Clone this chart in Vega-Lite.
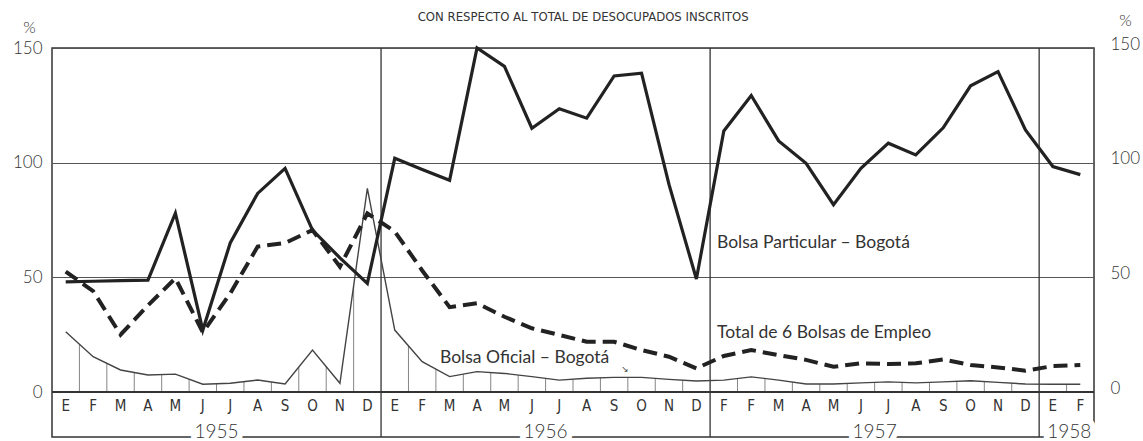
{
  "$schema": "https://vega.github.io/schema/vega-lite/v6.json",
  "width": 1042,
  "height": 389,
  "autosize": {"type": "none"},
  "padding": {"left": 52, "top": 48, "right": 49, "bottom": 4},
  "background": "#ffffff",
  "config": {"view": {"stroke": "#333333", "strokeWidth": 1.5}},
  "datasets": {
    "months": [
      {"i": 0, "m": "E", "p": 48, "t": 52.5, "o": 26.3},
      {"i": 1, "m": "F", "p": 48.3, "t": 44, "o": 15.4},
      {"i": 2, "m": "M", "p": 48.6, "t": 25, "o": 9.6},
      {"i": 3, "m": "A", "p": 48.8, "t": 37.8, "o": 7.4},
      {"i": 4, "m": "M", "p": 78, "t": 49.6, "o": 7.8},
      {"i": 5, "m": "J", "p": 27, "t": 26, "o": 3.4},
      {"i": 6, "m": "J", "p": 65, "t": 43, "o": 3.8},
      {"i": 7, "m": "A", "p": 86.6, "t": 63.4, "o": 5.2},
      {"i": 8, "m": "S", "p": 97.5, "t": 65, "o": 3.5},
      {"i": 9, "m": "O", "p": 70.6, "t": 70.6, "o": 18.3},
      {"i": 10, "m": "N", "p": 58.5, "t": 54.6, "o": 3.8},
      {"i": 11, "m": "D", "p": 47.4, "t": 77.9, "o": 88.8},
      {"i": 12, "m": "E", "p": 101.9, "t": 70, "o": 27},
      {"i": 13, "m": "F", "p": 97, "t": 53, "o": 13.2},
      {"i": 14, "m": "M", "p": 92.3, "t": 37, "o": 6.7},
      {"i": 15, "m": "A", "p": 150, "t": 38.7, "o": 8.9},
      {"i": 16, "m": "M", "p": 142, "t": 32.8, "o": 8.1},
      {"i": 17, "m": "J", "p": 115, "t": 27.8, "o": 6.7},
      {"i": 18, "m": "J", "p": 123.5, "t": 24.9, "o": 5.2},
      {"i": 19, "m": "A", "p": 119.4, "t": 21.9, "o": 6},
      {"i": 20, "m": "S", "p": 137.8, "t": 21.9, "o": 6.4},
      {"i": 21, "m": "O", "p": 139, "t": 18.3, "o": 6.4},
      {"i": 22, "m": "N", "p": 90.5, "t": 15.4, "o": 5.5},
      {"i": 23, "m": "D", "p": 49.3, "t": 10.3, "o": 4.8},
      {"i": 24, "m": "F", "p": 113.8, "t": 15.7, "o": 5.2},
      {"i": 25, "m": "F", "p": 129.3, "t": 18.3, "o": 6.6},
      {"i": 26, "m": "M", "p": 109.5, "t": 16.1, "o": 5.2},
      {"i": 27, "m": "A", "p": 99.7, "t": 14, "o": 3.5},
      {"i": 28, "m": "M", "p": 81.7, "t": 11, "o": 3.5},
      {"i": 29, "m": "J", "p": 97.5, "t": 12.5, "o": 4},
      {"i": 30, "m": "J", "p": 108.5, "t": 12.2, "o": 4.4},
      {"i": 31, "m": "A", "p": 103.4, "t": 12.5, "o": 4},
      {"i": 32, "m": "S", "p": 115.2, "t": 14.2, "o": 4.4},
      {"i": 33, "m": "O", "p": 133.5, "t": 11.8, "o": 4.9},
      {"i": 34, "m": "N", "p": 139.7, "t": 10.7, "o": 4.2},
      {"i": 35, "m": "D", "p": 114.3, "t": 9.3, "o": 3.5},
      {"i": 36, "m": "E", "p": 98.3, "t": 11.3, "o": 3.4},
      {"i": 37, "m": "F", "p": 94.8, "t": 11.8, "o": 3.4}
    ],
    "hatch": [
      {"b": 0.5, "h": 20.8}, {"b": 1.5, "h": 12.5}, {"b": 2.5, "h": 8.5}, {"b": 3.5, "h": 7.6},
      {"b": 4.5, "h": 5.6}, {"b": 5.5, "h": 3.6}, {"b": 6.5, "h": 4.5}, {"b": 7.5, "h": 4.3},
      {"b": 8.5, "h": 10.9}, {"b": 9.5, "h": 11}, {"b": 10.5, "h": 46.3},
      {"b": 12.5, "h": 20.1}, {"b": 13.5, "h": 10}, {"b": 14.5, "h": 7.8}, {"b": 15.5, "h": 8.5},
      {"b": 16.5, "h": 7.4}, {"b": 17.5, "h": 6}, {"b": 18.5, "h": 5.6}, {"b": 19.5, "h": 6.2},
      {"b": 20.5, "h": 6.4}, {"b": 21.5, "h": 6}, {"b": 22.5, "h": 5.2},
      {"b": 24.5, "h": 5.9}, {"b": 25.5, "h": 5.9}, {"b": 26.5, "h": 4.4}, {"b": 27.5, "h": 3.5},
      {"b": 28.5, "h": 3.8}, {"b": 29.5, "h": 4.2}, {"b": 30.5, "h": 4.2}, {"b": 31.5, "h": 4.2},
      {"b": 32.5, "h": 4.7}, {"b": 33.5, "h": 4.6}, {"b": 34.5, "h": 3.9},
      {"b": 36.5, "h": 3.4}
    ],
    "dividers": [{"d": 11.5}, {"d": 23.5}, {"d": 35.5}],
    "years": [
      {"yc": 5.5, "year": "1955"},
      {"yc": 17.5, "year": "1956"},
      {"yc": 29.5, "year": "1957"},
      {"yc": 36.6, "year": "1958"}
    ],
    "notes": [
      {"nx": 23.75, "ny": 65, "label": "Bolsa Particular – Bogotá"},
      {"nx": 23.75, "ny": 25.7, "label": "Total de 6 Bolsas de Empleo"},
      {"nx": 13.65, "ny": 14.8, "label": "Bolsa Oficial – Bogotá"}
    ],
    "arrow": [{"ax": 20.4, "ay": 10.2, "s": "↘"}],
    "heading": [{"hx": 18.87, "hy": 163.5, "txt": "CON RESPECTO AL TOTAL DE DESOCUPADOS INSCRITOS"}]
  },
  "resolve": {"axis": {"y": "independent"}},
  "layer": [
    {
      "data": {"name": "hatch"},
      "mark": {"type": "rule", "color": "#777777", "strokeWidth": 0.9},
      "encoding": {
        "x": {"field": "b", "type": "quantitative", "scale": {"domain": [-0.5, 37.5], "nice": false, "zero": false}, "axis": null},
        "y": {"field": "h", "type": "quantitative", "scale": {"domain": [-19.62, 150], "nice": false, "zero": false}, "axis": null},
        "y2": {"datum": 0}
      }
    },
    {
      "data": {"name": "dividers"},
      "mark": {"type": "rule", "color": "#333333", "strokeWidth": 1.3},
      "encoding": {
        "x": {"field": "d", "type": "quantitative", "axis": null}
      }
    },
    {
      "data": {"name": "months"},
      "mark": {"type": "rule", "color": "#333333", "strokeWidth": 1.8},
      "encoding": {
        "y": {"datum": 0, "type": "quantitative", "axis": null}
      }
    },
    {
      "data": {"name": "months"},
      "mark": {"type": "line", "color": "#444444", "strokeWidth": 1.4},
      "encoding": {
        "x": {"field": "i", "type": "quantitative", "axis": null},
        "y": {
          "field": "o", "type": "quantitative",
          "axis": {
            "orient": "right", "values": [0, 50, 100, 150], "grid": false, "ticks": false, "domain": false,
            "labelFont": "Lato", "labelFontSize": 17, "labelFontWeight": 300, "labelColor": "#333333",
            "labelPadding": 16, "labelOffset": -4, "labelAlign": "left",
            "title": "%", "titleAngle": 0, "titleX": 31, "titleY": -28, "titleFont": "Lato",
            "titleFontSize": 16, "titleFontWeight": 300, "titleColor": "#333333",
            "titleAlign": "center", "titleBaseline": "middle"
          }
        }
      }
    },
    {
      "data": {"name": "months"},
      "mark": {"type": "line", "color": "#222222", "strokeWidth": 4, "strokeDash": [14, 7]},
      "encoding": {
        "x": {"field": "i", "type": "quantitative", "axis": null},
        "y": {"field": "t", "type": "quantitative", "axis": null}
      }
    },
    {
      "data": {"name": "months"},
      "mark": {"type": "line", "color": "#222222", "strokeWidth": 3.2},
      "encoding": {
        "x": {"field": "i", "type": "quantitative", "axis": null},
        "y": {
          "field": "p", "type": "quantitative",
          "axis": {
            "orient": "left", "values": [0, 50, 100, 150], "grid": true, "gridColor": "#555555", "gridWidth": 1,
            "ticks": false, "domain": false,
            "labelFont": "Lato", "labelFontSize": 17, "labelFontWeight": 300, "labelColor": "#333333",
            "labelPadding": 10,
            "title": "%", "titleAngle": 0, "titleX": -23, "titleY": -21, "titleFont": "Lato",
            "titleFontSize": 16, "titleFontWeight": 300, "titleColor": "#333333",
            "titleAlign": "center", "titleBaseline": "middle"
          }
        }
      }
    },
    {
      "data": {"name": "months"},
      "mark": {"type": "text", "font": "Liberation Sans Narrow, DejaVu Sans Condensed, sans-serif", "fontSize": 15, "color": "#333333", "baseline": "middle", "align": "center"},
      "encoding": {
        "x": {"field": "i", "type": "quantitative", "axis": null},
        "y": {"datum": -6.1, "type": "quantitative", "axis": null},
        "text": {"field": "m"}
      }
    },
    {
      "data": {"name": "years"},
      "mark": {"type": "text", "font": "Lato", "fontSize": 19, "fontWeight": 300, "fill": "#ffffff", "stroke": "#ffffff", "strokeWidth": 12, "baseline": "middle", "align": "center"},
      "encoding": {
        "x": {"field": "yc", "type": "quantitative", "axis": null},
        "y": {"datum": -17.4, "type": "quantitative", "axis": null},
        "text": {"field": "year"}
      }
    },
    {
      "data": {"name": "years"},
      "mark": {"type": "text", "font": "Lato", "fontSize": 19, "fontWeight": 300, "color": "#333333", "baseline": "middle", "align": "center"},
      "encoding": {
        "x": {"field": "yc", "type": "quantitative", "axis": null},
        "y": {"datum": -17.4, "type": "quantitative", "axis": null},
        "text": {"field": "year"}
      }
    },
    {
      "data": {"name": "notes"},
      "mark": {"type": "text", "font": "Lato", "fontSize": 17.5, "color": "#333333", "baseline": "middle", "align": "left"},
      "encoding": {
        "x": {"field": "nx", "type": "quantitative", "axis": null},
        "y": {"field": "ny", "type": "quantitative", "axis": null},
        "text": {"field": "label"}
      }
    },
    {
      "data": {"name": "arrow"},
      "mark": {"type": "text", "font": "DejaVu Sans", "fontSize": 9, "color": "#444444", "baseline": "middle", "align": "center"},
      "encoding": {
        "x": {"field": "ax", "type": "quantitative", "axis": null},
        "y": {"field": "ay", "type": "quantitative", "axis": null},
        "text": {"field": "s"}
      }
    },
    {
      "data": {"name": "heading"},
      "mark": {"type": "text", "font": "Liberation Sans Narrow, DejaVu Sans Condensed, sans-serif", "fontSize": 13, "color": "#333333", "baseline": "middle", "align": "center"},
      "encoding": {
        "x": {"field": "hx", "type": "quantitative", "axis": null},
        "y": {"field": "hy", "type": "quantitative", "axis": null},
        "text": {"field": "txt"}
      }
    }
  ]
}
